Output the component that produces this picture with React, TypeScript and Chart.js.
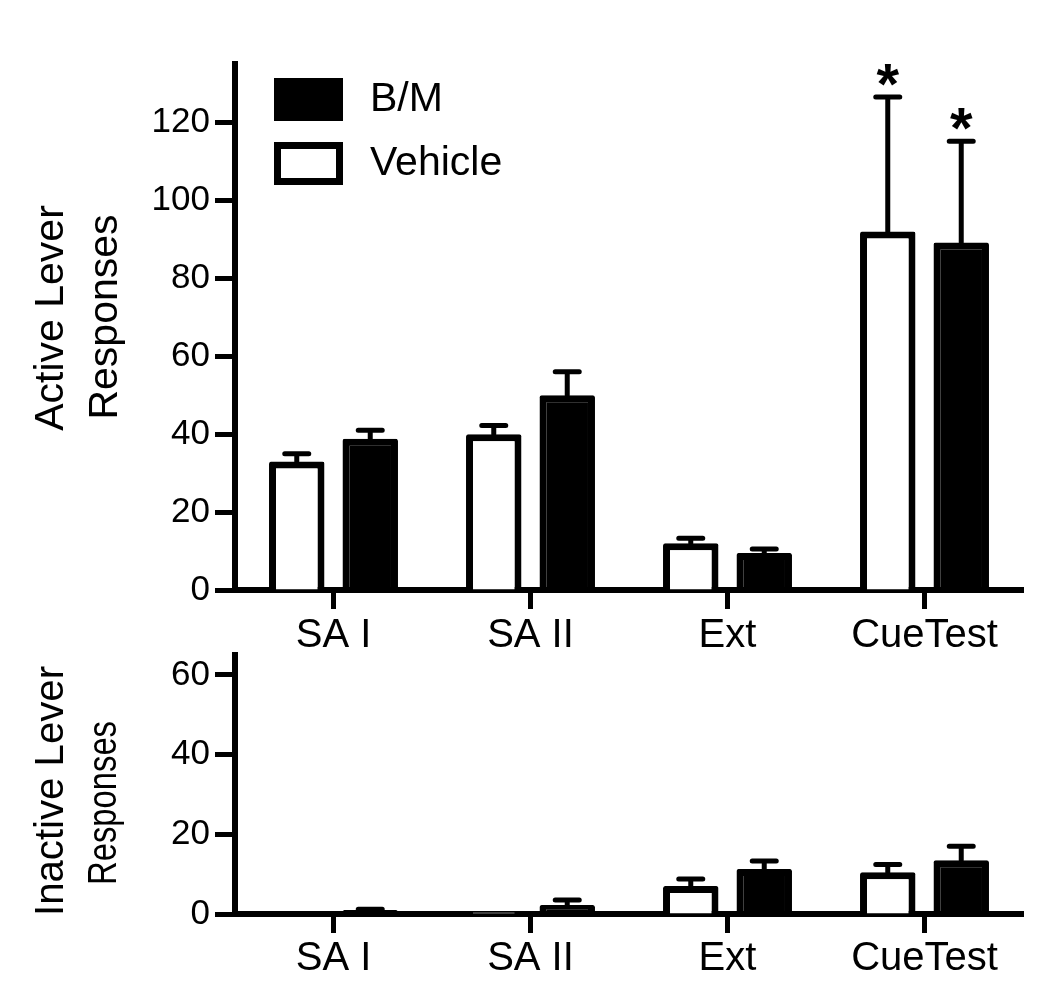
import React, { useEffect, useRef } from 'react';
import { Chart, registerables } from 'chart.js';

Chart.register(...registerables);

const FONT = '"Liberation Sans", Arial, Helvetica, sans-serif';

const categories = ['SA I', 'SA II', 'Ext', 'CueTest'];
const seriesNames = ['Vehicle', 'B/M'];

const activeVehicle = [33, 40, 12, 92];
const activeVehicleErr = [2, 2.2, 1.3, 34.5];
const activeBM = [38.8, 50, 9.5, 89.2];
const activeBMErr = [2.2, 6, 1, 26];
const activeVehicleStars = ['', '', '', '*'];
const activeBMStars = ['', '', '', '*'];
const activeTicks = [0, 20, 40, 60, 80, 100, 120];
const activeMax = 135;

const inactiveVehicle = [0, 0.5, 7, 10.5];
const inactiveVehicleErr = [0, 0, 1.8, 1.9];
const inactiveBM = [1.0, 2.25, 11.3, 13.5];
const inactiveBMErr = [0.2, 1.25, 2, 3.5];
const inactiveTicks = [0, 20, 40, 60];
const inactiveMax = 65;

const activeTitle = ['Active Lever', 'Responses'];
const inactiveTitle = ['Inactive Lever', 'Responses'];

const errorBarPlugin = {
  id: 'errorBars',
  afterDatasetsDraw(chart: any, _args: any, opts: any) {
    const ctx = chart.ctx;
    const yScale = chart.scales.y;
    ctx.save();
    ctx.strokeStyle = '#000';
    ctx.fillStyle = '#000';
    ctx.lineWidth = 5;
    ctx.lineCap = 'round';
    (opts.errors || []).forEach((errs: number[], di: number) => {
      const meta = chart.getDatasetMeta(di);
      meta.data.forEach((bar: any, i: number) => {
        const v = chart.data.datasets[di].data[i] as number;
        const e = errs[i];
        const x = bar.x;
        const y0 = yScale.getPixelForValue(v);
        const y1 = yScale.getPixelForValue(v + (e || 0));
        if (e) {
          ctx.beginPath();
          ctx.moveTo(x, y0);
          ctx.lineTo(x, y1);
          ctx.moveTo(x - 12, y1);
          ctx.lineTo(x + 12, y1);
          ctx.stroke();
        }
        const star = opts.stars && opts.stars[di] && opts.stars[di][i];
        if (star) {
          ctx.font = `bold 58px ${FONT}`;
          ctx.textAlign = 'center';
          ctx.textBaseline = 'alphabetic';
          const m = ctx.measureText(star);
          const cy = y1 - 22;
          const base = cy + (m.actualBoundingBoxAscent - m.actualBoundingBoxDescent) / 2;
          ctx.fillText(star, x, base);
        }
      });
    });
    ctx.restore();
  },
};

const boxLegendPlugin = {
  id: 'boxLegend',
  afterDraw(chart: any, _args: any, opts: any) {
    if (!opts.items) return;
    const ctx = chart.ctx;
    const area = chart.chartArea;
    ctx.save();
    opts.items.forEach((it: any, k: number) => {
      const left = area.left + opts.dx;
      const top = area.top + opts.dy + k * opts.step;
      ctx.fillStyle = '#000';
      ctx.fillRect(left, top, opts.w, opts.h);
      if (it.fill !== '#000') {
        ctx.fillStyle = it.fill;
        ctx.fillRect(left + opts.bw, top + opts.bw, opts.w - 2 * opts.bw, opts.h - 2 * opts.bw);
      }
      ctx.fillStyle = '#000';
      ctx.font = `${opts.fontSize}px ${FONT}`;
      ctx.textAlign = 'left';
      ctx.textBaseline = 'middle';
      ctx.fillText(it.label, left + opts.textDx, top + opts.h / 2);
    });
    ctx.restore();
  },
};

const sideTitlePlugin = {
  id: 'sideTitle',
  afterDraw(chart: any, _args: any, opts: any) {
    if (!opts.lines) return;
    const ctx = chart.ctx;
    ctx.save();
    ctx.fillStyle = '#000';
    ctx.font = `${opts.fontSize}px ${FONT}`;
    ctx.textAlign = 'center';
    ctx.textBaseline = 'middle';
    opts.lines.forEach((line: string, k: number) => {
      ctx.save();
      ctx.translate(opts.xs[k], opts.ys[k]);
      ctx.rotate(-Math.PI / 2);
      const mw = opts.maxWidths && opts.maxWidths[k];
      if (mw) ctx.fillText(line, 0, 0, mw);
      else ctx.fillText(line, 0, 0);
      ctx.restore();
    });
    ctx.restore();
  },
};

function makeConfig(p: any): any {
  return {
    type: 'bar',
    data: {
      labels: categories,
      datasets: [
        {
          label: seriesNames[0],
          data: p.vehicle,
          backgroundColor: '#fff',
          borderColor: '#000',
          borderWidth: 7,
          borderRadius: 2,
          categoryPercentage: 0.746,
          barPercentage: 0.755,
        },
        {
          label: seriesNames[1],
          data: p.bm,
          backgroundColor: '#000',
          borderColor: '#000',
          borderWidth: 7,
          borderRadius: 2,
          categoryPercentage: 0.746,
          barPercentage: 0.755,
        },
      ],
    },
    options: {
      responsive: false,
      maintainAspectRatio: false,
      animation: false,
      devicePixelRatio: 1,
      layout: { padding: { top: p.padTop, right: 27, left: 0, bottom: 0 } },
      plugins: {
        legend: { display: false },
        tooltip: { enabled: false },
        errorBars: { errors: p.errors, stars: p.stars },
        boxLegend: p.legend || {},
        sideTitle: p.title,
      },
      scales: {
        x: {
          type: 'category',
          offset: true,
          grid: {
            display: true,
            drawOnChartArea: false,
            offset: false,
            tickLength: 19,
            tickWidth: 5,
            tickColor: '#000',
          },
          border: { display: true, width: 6, color: '#000' },
          ticks: {
            color: '#000',
            font: { family: FONT, size: 40 },
            padding: p.xPad,
            maxRotation: 0,
            autoSkip: false,
          },
          afterFit: (s: any) => {
            s.height = p.xHeight;
          },
        },
        y: {
          min: 0,
          max: p.max,
          afterBuildTicks: (s: any) => {
            s.ticks = p.ticks.map((v: number) => ({ value: v }));
          },
          grid: {
            display: true,
            drawOnChartArea: false,
            tickLength: 20,
            tickWidth: 5,
            tickColor: '#000',
          },
          border: { display: true, width: 6, color: '#000' },
          ticks: {
            color: '#000',
            font: { family: FONT, size: 35 },
            padding: 5,
          },
          afterFit: (s: any) => {
            s.width = 235;
          },
        },
      },
    },
    plugins: [errorBarPlugin, boxLegendPlugin, sideTitlePlugin],
  };
}

export default function App() {
  const topRef = useRef<HTMLCanvasElement | null>(null);
  const botRef = useRef<HTMLCanvasElement | null>(null);

  useEffect(() => {
    const top = new Chart(
      topRef.current as HTMLCanvasElement,
      makeConfig({
        vehicle: activeVehicle,
        bm: activeBM,
        errors: [activeVehicleErr, activeBMErr],
        stars: [activeVehicleStars, activeBMStars],
        ticks: activeTicks,
        max: activeMax,
        padTop: 64,
        xHeight: 75,
        xPad: 3,
        legend: {
          items: [
            { label: seriesNames[1], fill: '#000' },
            { label: seriesNames[0], fill: '#fff' },
          ],
          dx: 39,
          dy: 14,
          step: 64,
          w: 69,
          h: 43,
          bw: 7,
          textDx: 96,
          fontSize: 41,
        },
        title: { lines: activeTitle, xs: [52, 106], ys: [318, 317], fontSize: 41 },
      })
    );
    const bot = new Chart(
      botRef.current as HTMLCanvasElement,
      makeConfig({
        vehicle: inactiveVehicle,
        bm: inactiveBM,
        errors: [inactiveVehicleErr, inactiveBMErr],
        stars: [[], []],
        ticks: inactiveTicks,
        max: inactiveMax,
        padTop: 30,
        xHeight: 91,
        xPad: 2,
        title: {
          lines: inactiveTitle,
          xs: [52, 105],
          ys: [166, 178],
          maxWidths: [250, 164],
          fontSize: 41,
        },
      })
    );
    return () => {
      top.destroy();
      bot.destroy();
    };
  }, []);

  return (
    <div
      style={{
        position: 'fixed',
        left: 0,
        top: 0,
        width: 1050,
        height: 1005,
        background: '#fff',
        overflow: 'hidden',
      }}
    >
      <canvas
        ref={topRef}
        width={1050}
        height={665}
        style={{ position: 'absolute', left: 0, top: 0, width: 1050, height: 665 }}
      />
      <canvas
        ref={botRef}
        width={1050}
        height={380}
        style={{ position: 'absolute', left: 0, top: 625, width: 1050, height: 380 }}
      />
    </div>
  );
}
